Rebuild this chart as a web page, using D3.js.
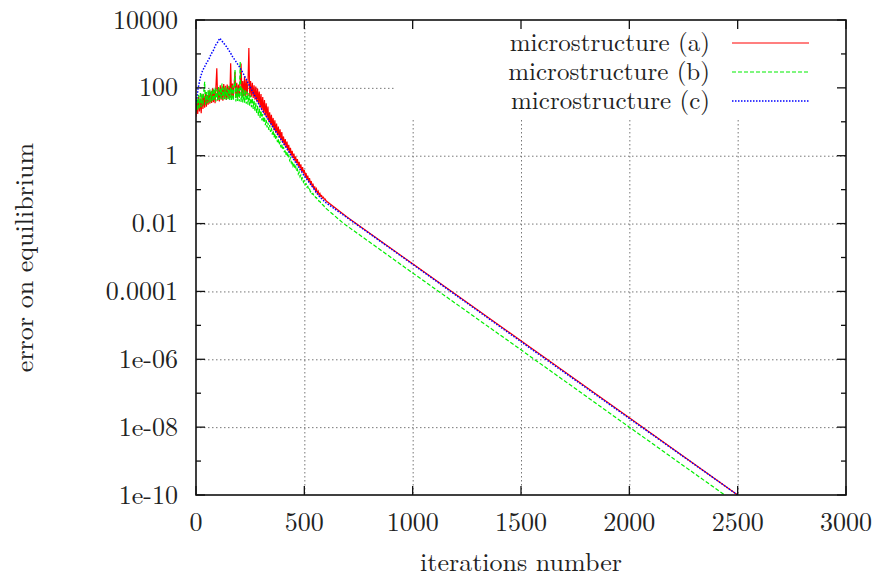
<!DOCTYPE html>
<html>
<head>
<meta charset="utf-8">
<script src="https://cdn.jsdelivr.net/npm/d3@7/dist/d3.min.js"></script>
<style>
  body { margin: 0; background: #fff; }
</style>
</head>
<body>
<svg id="chart" width="881" height="579" font-family="'Latin Modern Roman', 'Liberation Serif', serif"></svg>
<script>
// error on equilibrium
// noisy start is sampled every 4 (a, b) / 10 (c) iterations, then the straight tail
stepAB = 4;
stepC = 10;

errA = [14, 45, 17, 55, 20, 48, 18, 65, 24, 58, 26, 75, 28, 62, 32, 85, 34, 78, 36, 95,
        38, 88, 35, 110, 380, 42, 100, 40, 120, 45, 105, 42, 130, 46, 115, 44, 125, 48, 110, 50,
        530, 48, 135, 52, 120, 300, 50, 140, 55, 125, 52, 150, 520, 56, 160, 58, 220, 55, 170, 60,
        150, 1500, 58, 160, 55, 140, 50, 120, 45, 110, 40, 95, 35, 78, 26, 66, 22, 54, 18, 44,
        15, 35, 12.5, 28, 10, 19, 8.5, 16, 7, 13, 5.6, 11, 4.8, 8.9, 4, 7.2, 3.4, 6, 2.8, 5,
        2.4, 3.7, 2, 3.1, 1.7, 2.6, 1.4, 2.1, 1.2, 1.7, 1.0, 1.4, 0.85, 1.15, 0.71, 0.95, 0.6, 0.8, 0.5, 0.66,
        0.42, 0.56, 0.34, 0.46, 0.3, 0.38, 0.24, 0.31, 0.2, 0.26, 0.17, 0.22, 0.145, 0.18, 0.12, 0.15, 0.105, 0.125, 0.09, 0.105,
        0.08, 0.09, 0.07, 0.077, 0.063, 0.067, 0.057, 0.06, 0.052, 0.053, 0.047];
tailIterA = [700, 1000, 1500, 2000, 2500];
tailA = [0.015, 6.5e-4, 3.5e-6, 1.9e-8, 1e-10];

errB = [20, 55, 22, 62, 25, 70, 27, 68, 30, 80, 150, 32, 75, 35, 85, 36, 90, 38, 82, 40,
        95, 42, 100, 40, 90, 44, 105, 45, 95, 46, 135, 45, 100, 47, 110, 45, 95, 46, 115, 44,
        100, 43, 120, 42, 105, 340, 40, 110, 41, 95, 40, 590, 38, 100, 37, 90, 36, 85, 34, 78,
        32, 70, 30, 60, 27, 50, 24, 42, 21, 36, 18, 30, 15, 25, 13, 21, 11, 17, 9.5, 14,
        8, 11.5, 6.8, 9.5, 5.8, 8, 5, 6.6, 4.2, 5.5, 3.5, 4.6, 3, 3.8, 2.5, 3.1, 2.1, 2.6, 1.75, 2.15,
        1.5, 1.8, 1.25, 1.5, 1.05, 1.25, 0.88, 1.02, 0.73, 0.85, 0.61, 0.7, 0.5, 0.58, 0.42, 0.48, 0.35, 0.4, 0.29, 0.33,
        0.24, 0.27, 0.2, 0.22, 0.165, 0.18, 0.14, 0.15, 0.118, 0.125, 0.1, 0.105, 0.086, 0.09, 0.075, 0.077, 0.066, 0.067, 0.058, 0.058,
        0.051, 0.051, 0.045, 0.045, 0.04, 0.04, 0.036, 0.035, 0.032, 0.031, 0.028];
tailIterB = [680, 1000, 1500, 2000, 2440];
tailB = [0.0102, 3.5e-4, 1.9e-6, 1e-8, 1e-10];

errC = [32, 100, 200, 316, 420, 560, 710, 1000, 1260, 1780, 2240, 2900, 2400, 2000, 1660, 1320, 1050, 800, 660, 525,
        420, 330, 250, 190, 140, 105, 80, 60, 45, 33, 25, 20, 16, 12.6, 10, 7.9, 6.3, 5, 4, 3.2,
        2.5, 2, 1.6, 1.26, 1, 0.79, 0.63, 0.5, 0.4, 0.32, 0.25, 0.21, 0.17, 0.14, 0.115, 0.093, 0.076, 0.063, 0.054, 0.047,
        0.041];
tailIterC = [700, 1000, 1500, 2000, 2500];
tailC = [0.0145, 6.3e-4, 3.3e-6, 1.8e-8, 1e-10];

seriesNames = ["microstructure (a)", "microstructure (b)", "microstructure (c)"];
seriesColors = ["#ff0000", "#00ee00", "#0000ff"];
seriesDash = [null, "4,2", "1.5,1.5"];

xTicks = [0, 500, 1000, 1500, 2000, 2500, 3000];
yTicks = [1e4, 1e2, 1, 1e-2, 1e-4, 1e-6, 1e-8, 1e-10];
yTickLabels = ["10000", "100", "1", "0.01", "0.0001", "1e-06", "1e-08", "1e-10"];
yMinorTicks = [1e3, 1e1, 1e-1, 1e-3, 1e-5, 1e-7, 1e-9];

function toPoints(vals, step, tailIter, tail) {
    let pts = vals.map(function(v, i) { return [i * step, v]; });
    return pts.concat(tailIter.map(function(t, i) { return [t, tail[i]]; }));
}

series = [
    toPoints(errA, stepAB, tailIterA, tailA),
    toPoints(errB, stepAB, tailIterB, tailB),
    toPoints(errC, stepC, tailIterC, tailC)
];

svg = d3.select("#chart");
area = {left: 196, right: 846, top: 20, bottom: 495};

x = d3.scaleLinear().domain([0, 3000]).range([area.left, area.right]);
y = d3.scaleLog().domain([1e-10, 1e4]).range([area.bottom, area.top]);

// grid
grid = svg.append("g").attr("stroke", "#777").attr("stroke-width", 1).attr("stroke-dasharray", "1.5,2.5");
grid.selectAll(".gx").data(xTicks.slice(1, -1)).enter().append("line")
    .attr("x1", d => x(d) + 0.5).attr("x2", d => x(d) + 0.5)
    .attr("y1", area.top).attr("y2", area.bottom);
grid.selectAll(".gy").data(yTicks.slice(1, -1)).enter().append("line")
    .attr("x1", area.left).attr("x2", area.right)
    .attr("y1", d => y(d) + 0.5).attr("y2", d => y(d) + 0.5);

// key area hides the grid
svg.append("rect").attr("x", 396).attr("y", area.top + 1)
    .attr("width", area.right - 396 - 1).attr("height", 98).attr("fill", "#fff");

// curves
line = d3.line().x(d => x(d[0])).y(d => y(d[1]));
svg.append("defs").append("clipPath").attr("id", "clip")
    .append("rect").attr("x", area.left).attr("y", area.top)
    .attr("width", area.right - area.left).attr("height", area.bottom - area.top);
curves = svg.append("g").attr("clip-path", "url(#clip)");
series.forEach(function(pts, i) {
    curves.append("path")
        .attr("d", line(pts))
        .attr("fill", "none")
        .attr("stroke", seriesColors[i])
        .attr("stroke-width", i == 2 ? 1.5 : 1.2)
        .attr("stroke-dasharray", seriesDash[i]);
});

// frame and ticks
axes = svg.append("g").attr("stroke", "#111").attr("fill", "none");
axes.append("rect").attr("x", area.left).attr("y", area.top)
    .attr("width", area.right - area.left).attr("height", area.bottom - area.top)
    .attr("stroke-width", 1.6);
xTicks.forEach(function(t) {
    axes.append("line").attr("x1", x(t)).attr("x2", x(t)).attr("y1", area.bottom).attr("y2", area.bottom - 9).attr("stroke-width", 1.3);
    axes.append("line").attr("x1", x(t)).attr("x2", x(t)).attr("y1", area.top).attr("y2", area.top + 9).attr("stroke-width", 1.3);
});
yTicks.forEach(function(t) {
    axes.append("line").attr("x1", area.left).attr("x2", area.left + 9).attr("y1", y(t)).attr("y2", y(t)).attr("stroke-width", 1.3);
    axes.append("line").attr("x1", area.right).attr("x2", area.right - 9).attr("y1", y(t)).attr("y2", y(t)).attr("stroke-width", 1.3);
});
yMinorTicks.forEach(function(t) {
    axes.append("line").attr("x1", area.left).attr("x2", area.left + 5).attr("y1", y(t)).attr("y2", y(t)).attr("stroke-width", 1.3);
    axes.append("line").attr("x1", area.right).attr("x2", area.right - 5).attr("y1", y(t)).attr("y2", y(t)).attr("stroke-width", 1.3);
});

// tick labels
svg.selectAll(".xl").data(xTicks).enter().append("text")
    .attr("x", d => x(d)).attr("y", 531)
    .attr("text-anchor", "middle").attr("font-size", 26).attr("fill", "#222")
    .text(d => d);
svg.selectAll(".yl").data(yTicks).enter().append("text")
    .attr("x", 178).attr("y", d => y(d) + 8.5)
    .attr("text-anchor", "end").attr("font-size", 26).attr("fill", "#222")
    .text((d, i) => yTickLabels[i]);

// axis titles
svg.append("text").attr("x", (area.left + area.right) / 2).attr("y", 571)
    .attr("text-anchor", "middle").attr("font-size", 26).attr("fill", "#222")
    .text("iterations number");
svg.append("text").attr("transform", "translate(33," + (area.top + area.bottom) / 2 + ") rotate(-90)")
    .attr("text-anchor", "middle").attr("font-size", 26).attr("fill", "#222")
    .text("error on equilibrium");

// legend
legend = svg.append("g");
seriesNames.forEach(function(name, i) {
    let ly = 43 + i * 29;
    legend.append("text").attr("x", 710).attr("y", ly + 8)
        .attr("text-anchor", "end").attr("font-size", 25).attr("fill", "#222")
        .text(name);
    legend.append("line").attr("x1", 732).attr("x2", 809).attr("y1", ly).attr("y2", ly)
        .attr("stroke", seriesColors[i]).attr("stroke-width", i == 2 ? 1.5 : 1.2)
        .attr("stroke-dasharray", seriesDash[i]);
});
</script>
</body>
</html>
